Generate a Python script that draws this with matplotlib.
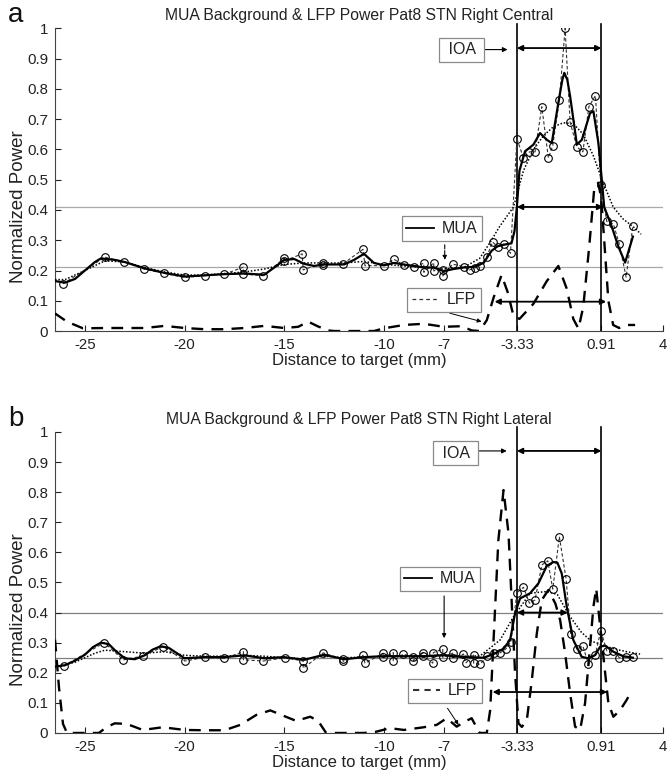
import matplotlib
matplotlib.use("Agg")
import matplotlib.pyplot as plt
from matplotlib.lines import Line2D

plt.rcParams['font.family'] = ['Liberation Sans', 'DejaVu Sans']

# ---------------- data: panel a (Right Central) ----------------
a_raw_x = [-26.1, -24.0, -23.05, -22.05, -21.05, -20.0, -19.0, -18.0, -17.05, -17.05, -16.05,
           -15.0, -15.0, -14.1, -14.05, -13.05, -13.05, -12.05, -11.05, -10.95, -10.0, -9.5,
           -9.0, -8.5, -8.0, -8.0, -7.5, -7.5, -7.05, -7.05, -6.55, -6.0, -5.7, -5.45, -5.2,
           -4.85, -4.55, -4.3, -4.0, -3.65, -3.33, -3.0, -2.7, -2.42, -2.08, -1.75, -1.53,
           -1.2, -0.91, -0.66, -0.32, -0.02, 0.28, 0.61, 0.88, 1.18, 1.51, 1.81, 2.15, 2.49]
a_raw_y = [0.156, 0.244, 0.229, 0.205, 0.191, 0.177, 0.183, 0.188, 0.211, 0.188, 0.183,
           0.241, 0.232, 0.255, 0.202, 0.226, 0.219, 0.222, 0.27, 0.216, 0.216, 0.237,
           0.218, 0.213, 0.224, 0.194, 0.226, 0.199, 0.202, 0.182, 0.221, 0.213, 0.202, 0.208, 0.216,
           0.244, 0.294, 0.279, 0.287, 0.257, 0.635, 0.572, 0.592, 0.592, 0.741, 0.572, 0.613,
           0.763, 1.0, 0.69, 0.608, 0.592, 0.741, 0.778, 0.481, 0.362, 0.354, 0.287, 0.178, 0.348]

a_mua_x = [-26.5, -26.0, -25.5, -25.0, -24.5, -24.2, -23.5, -23.0, -22.0, -21.0, -20.0, -19.0,
           -18.0, -17.0, -16.0, -15.5, -15.0, -14.5, -14.0, -13.5, -13.0, -12.0, -11.5, -11.0,
           -10.5, -10.0, -9.5, -9.0, -8.5, -8.0, -7.5, -7.0, -6.5, -6.0, -5.5, -5.0, -4.6, -4.3,
           -4.0, -3.6, -3.45, -3.33, -3.2, -2.92, -2.5, -2.17, -1.83, -1.58, -1.25, -1.05,
           -0.95, -0.8, -0.66, -0.32, -0.07, 0.34, 0.51, 0.76, 0.93, 1.05, 1.43, 1.76, 2.1, 2.49]
a_mua_y = [0.165, 0.16, 0.172, 0.2, 0.228, 0.24, 0.235, 0.228, 0.207, 0.192, 0.18, 0.184,
           0.188, 0.19, 0.186, 0.21, 0.235, 0.238, 0.222, 0.215, 0.22, 0.22, 0.235, 0.255,
           0.225, 0.217, 0.225, 0.22, 0.215, 0.21, 0.21, 0.198, 0.205, 0.21, 0.212, 0.225, 0.265,
           0.28, 0.285, 0.29, 0.33, 0.41, 0.53, 0.594, 0.616, 0.654, 0.632, 0.621, 0.754, 0.83,
           0.853, 0.83, 0.776, 0.616, 0.632, 0.72, 0.726, 0.621, 0.5, 0.41, 0.345, 0.279, 0.226,
           0.312]

a_smooth_x = [-26.5, -26.0, -25.0, -24.0, -23.0, -22.0, -21.0, -20.0, -19.0, -18.0, -17.0, -16.0,
              -15.0, -14.0, -13.0, -12.0, -11.0, -10.0, -9.0, -8.0, -7.0, -6.0, -5.2, -4.7, -4.2,
              -3.5, -3.0, -2.5, -2.0, -1.5, -1.0, -0.5, 0.0, 0.5, 1.0, 1.5, 2.0, 2.5, 2.9]
a_smooth_y = [0.17, 0.17, 0.2, 0.232, 0.228, 0.21, 0.195, 0.185, 0.185, 0.19, 0.195, 0.205,
              0.22, 0.225, 0.225, 0.225, 0.23, 0.22, 0.215, 0.21, 0.205, 0.21, 0.24, 0.29, 0.345,
              0.41, 0.53, 0.6, 0.645, 0.675, 0.688, 0.685, 0.65, 0.58, 0.49, 0.41, 0.37, 0.345, 0.32]

a_lfp_x = [-26.5, -25.9, -25.1, -24.0, -23.0, -22.0, -21.0, -20.0, -19.0, -18.0, -17.0, -16.0,
           -15.0, -14.3, -13.8, -13.3, -12.8, -12.5, -11.5, -10.5, -10.0, -9.0, -8.0, -7.0,
           -6.1, -5.6, -5.2, -4.84, -4.5, -4.1, -3.8, -3.5, -3.2, -2.5, -1.83, -1.25, -0.83,
           -0.5, -0.24, 0.0, 0.3, 0.55, 0.75, 0.9, 1.05, 1.26, 1.5, 1.8, 2.2, 2.6]
a_lfp_y = [0.058, 0.031, 0.009, 0.01, 0.01, 0.01, 0.017, 0.01, 0.006, 0.006, 0.01, 0.017,
           0.01, 0.014, 0.031, 0.015, 0.002, 0.0, 0.0, 0.0, 0.009, 0.02, 0.024, 0.014,
           0.016, 0.002, 0.0, 0.036, 0.11, 0.185, 0.13, 0.05, 0.04, 0.09, 0.165, 0.215, 0.14,
           0.04, 0.008, 0.08, 0.28, 0.47, 0.49, 0.44, 0.3, 0.1, 0.02, 0.01, 0.02, 0.02]

a_thresholds = [0.41, 0.21]

# ---------------- data: panel b (Right Lateral) ----------------
b_raw_x = [-26.05, -24.03, -23.07, -22.07, -21.07, -19.98, -19.0, -18.0, -17.05, -17.05, -16.05,
           -14.96, -14.05, -14.05, -13.05, -12.05, -12.05, -11.05, -10.95, -10.03, -10.03,
           -9.53, -9.53, -9.02, -8.52, -8.52, -8.02, -8.02, -7.55, -7.52, -7.05, -7.05, -6.55,
           -6.55, -6.01, -5.9, -5.5, -5.5, -5.18, -4.81, -4.5, -4.2, -3.9, -3.63, -3.33, -3.0,
           -2.7, -2.42, -2.08, -1.78, -1.53, -1.2, -0.86, -0.63, -0.32, -0.02, 0.26, 0.6, 0.88,
           1.18, 1.51, 1.81, 2.15, 2.49]
b_raw_y = [0.223, 0.300, 0.243, 0.256, 0.287, 0.239, 0.251, 0.248, 0.27, 0.243, 0.239,
           0.25, 0.239, 0.215, 0.266, 0.245, 0.238, 0.258, 0.232, 0.265, 0.251,
           0.267, 0.240, 0.262, 0.251, 0.240, 0.267, 0.255, 0.232, 0.267, 0.279, 0.251, 0.265,
           0.25, 0.262, 0.232, 0.259, 0.232, 0.228, 0.256, 0.265, 0.265, 0.278, 0.303, 0.466, 0.484,
           0.431, 0.442, 0.558, 0.572, 0.478, 0.652, 0.511, 0.329, 0.278, 0.289, 0.229, 0.259, 0.34,
           0.273, 0.273, 0.25, 0.253, 0.251]

b_mua_x = [-26.5, -26.0, -25.5, -25.0, -24.6, -24.2, -23.8, -23.5, -23.0, -22.5, -22.0, -21.6,
           -21.2, -20.8, -20.5, -20.0, -19.0, -18.0, -17.0, -16.0, -15.0, -14.0, -13.0, -12.0,
           -11.0, -10.0, -9.0, -8.0, -7.0, -6.0, -5.0, -4.5, -4.0, -3.67, -3.42, -3.17, -2.67,
           -2.25, -1.83, -1.5, -1.3, -1.08, -0.83, -0.5, -0.08, 0.26, 0.6, 0.85, 1.1, 1.51,
           2.0, 2.49]
b_mua_y = [0.22, 0.225, 0.24, 0.26, 0.285, 0.30, 0.295, 0.275, 0.248, 0.245, 0.258, 0.277,
           0.288, 0.283, 0.27, 0.248, 0.252, 0.252, 0.258, 0.248, 0.252, 0.243, 0.26, 0.245,
           0.252, 0.255, 0.255, 0.255, 0.258, 0.252, 0.25, 0.262, 0.28, 0.309, 0.398, 0.447, 0.464,
           0.497, 0.555, 0.568, 0.566, 0.53, 0.42, 0.309, 0.253, 0.248, 0.259, 0.287, 0.29, 0.27,
           0.255, 0.25]

b_smooth_x = [-26.5, -25.5, -24.5, -24.0, -23.0, -22.0, -21.0, -20.0, -19.0, -18.0, -17.0, -16.0,
              -15.0, -14.0, -13.0, -12.0, -11.0, -10.0, -9.0, -8.0, -7.0, -6.0, -5.18, -4.17,
              -3.5, -2.67, -1.83, -1.3, -0.7, -0.1, 0.4, 0.85, 1.51, 2.18, 2.85]
b_smooth_y = [0.22, 0.235, 0.265, 0.275, 0.27, 0.265, 0.27, 0.258, 0.255, 0.255, 0.258, 0.255,
              0.25, 0.246, 0.255, 0.25, 0.252, 0.255, 0.255, 0.255, 0.26, 0.255, 0.256, 0.309,
              0.386, 0.464, 0.47, 0.46, 0.39, 0.335, 0.305, 0.295, 0.28, 0.27, 0.262]

b_lfp_x = [-26.5, -26.3, -26.1, -25.9, -25.0, -24.3, -23.9, -23.5, -22.9, -22.1, -21.1, -20.0,
           -19.0, -18.0, -17.2, -16.4, -15.7, -15.0, -14.4, -13.7, -13.3, -12.9, -12.0, -11.0,
           -10.4, -9.7, -9.0, -8.0, -7.35, -6.85, -6.35, -5.93, -5.6, -5.2, -4.84, -4.67, -4.5,
           -4.26, -4.0, -3.75, -3.58, -3.42, -3.25, -3.08, -2.83, -2.58, -2.33, -2.08, -1.75,
           -1.4, -1.16, -0.91, -0.66, -0.41, -0.16, 0.09, 0.34, 0.51, 0.65, 0.85, 1.1, 1.26,
           1.51, 1.85, 2.18, 2.3]
b_lfp_y = [0.31, 0.15, 0.03, 0.0, 0.0, 0.0, 0.02, 0.032, 0.03, 0.01, 0.019, 0.01,
           0.009, 0.009, 0.027, 0.06, 0.075, 0.056, 0.04, 0.054, 0.04, 0.0, 0.0, 0.0,
           0.004, 0.016, 0.01, 0.019, 0.027, 0.049, 0.021, 0.038, 0.049, 0.0, 0.0, 0.076, 0.309,
           0.64, 0.807, 0.663, 0.42, 0.198, 0.032, 0.02, 0.043, 0.176, 0.331, 0.442, 0.475,
           0.43, 0.375, 0.265, 0.132, 0.021, 0.01, 0.099, 0.287, 0.42, 0.48, 0.353, 0.198, 0.099,
           0.054, 0.076, 0.11, 0.125]

b_thresholds = [0.40, 0.25]

# ---------------- shared axis info ----------------
ioa_bounds = [-3.33, 0.91]
x_ticks = [-25, -20, -15, -10, -7, -3.33, 0.91, 4]
x_tick_labels = ['-25', '-20', '-15', '-10', '-7', '-3.33', '0.91', '4']
y_ticks = [0, 0.1, 0.2, 0.3, 0.4, 0.5, 0.6, 0.7, 0.8, 0.9, 1.0]
y_tick_labels = ['0', '0.1', '0.2', '0.3', '0.4', '0.5', '0.6', '0.7', '0.8', '0.9', '1']
titles = ['MUA Background & LFP Power Pat8 STN Right Central',
          'MUA Background & LFP Power Pat8 STN Right Lateral']
panel_letters = ['a', 'b']

# MUA-threshold arrow spans and LFP-threshold arrow spans (x1, x2, y)
mua_spans = [(-3.33, 1.0, 0.41), (-3.33, -0.78, 0.40)]
lfp_spans = [(-4.45, 1.15, 0.097), (-4.55, 1.2, 0.136)]

fig = plt.figure(figsize=(6.67, 7.8), dpi=100)
ax_a = fig.add_axes([0.0825, 0.5756, 0.9115, 0.388])
ax_b = fig.add_axes([0.0825, 0.0603, 0.9115, 0.3859])

BOX_EC = '#8a8a8a'
TXT = '#222222'


def draw_panel(ax, raw_x, raw_y, mua_x, mua_y, sm_x, sm_y, lfp_x, lfp_y, thr, thr_color,
               mua_span, lfp_span, layout, title):
    for t in thr:
        ax.axhline(t, color=thr_color, lw=0.9, zorder=1)
    for b in ioa_bounds:
        ax.axvline(b, ymin=0, ymax=1.015, color='black', lw=1.2, clip_on=False, zorder=2)
    ax.plot(sm_x, sm_y, color='black', lw=1.1, ls=(0, (1, 1.2)), zorder=3)
    ax.plot(raw_x, raw_y, color='#333333', lw=0.8, ls=(0, (3, 2)), marker='o', ms=5.5,
            mfc='none', mec='black', mew=0.8, zorder=4)
    ax.plot(mua_x, mua_y, color='black', lw=1.6, zorder=5)
    ax.plot(lfp_x, lfp_y, color='black', lw=1.7, ls=(0, (5, 3.5)), zorder=5)

    ax.set_xlim(-26.5, 4)
    ax.set_ylim(0, 1)
    ax.set_xticks(x_ticks)
    ax.set_xticklabels(x_tick_labels)
    ax.set_yticks(y_ticks)
    ax.set_yticklabels(y_tick_labels)
    ax.tick_params(direction='in', length=4, width=0.8, labelsize=10.8, colors=TXT, pad=5)
    for s in ['top', 'right']:
        ax.spines[s].set_visible(False)
    for s in ['left', 'bottom']:
        ax.spines[s].set_linewidth(0.8)
        ax.spines[s].set_color('#444444')
    ax.set_xlabel('Distance to target (mm)', fontsize=12, labelpad=1, color=TXT)
    ax.set_ylabel('Normalized Power', fontsize=13.5, color=TXT)
    ax.yaxis.set_label_coords(-0.046, 0.41)
    ax.set_title(title, fontsize=11.3, pad=6, color=TXT)

    arrow2 = dict(arrowstyle='<|-|>', lw=1.3, color='black', shrinkA=0, shrinkB=0,
                  mutation_scale=8)
    ax.annotate('', xy=(ioa_bounds[1], layout['ioa_y']), xytext=(ioa_bounds[0], layout['ioa_y']),
                arrowprops=arrow2, zorder=6)
    ax.annotate('', xy=(mua_span[1], mua_span[2]), xytext=(mua_span[0], mua_span[2]),
                arrowprops=arrow2, zorder=6)
    ax.annotate('', xy=(lfp_span[1], lfp_span[2]), xytext=(lfp_span[0], lfp_span[2]),
                arrowprops=arrow2, zorder=6)

    ax.text(layout['ioa_box'][0], layout['ioa_box'][1], ' IOA ', ha='center', va='center',
            fontsize=11.5, color=TXT,
            bbox=dict(boxstyle='square,pad=0.28', fc='white', ec=BOX_EC, lw=0.9), zorder=7)
    ax.annotate('', xy=layout['ioa_arrow'][1], xytext=layout['ioa_arrow'][0],
                arrowprops=dict(arrowstyle='-|>', lw=0.8, color='black', shrinkA=0, shrinkB=0,
                                mutation_scale=7))

    common = dict(loc='center', bbox_transform=ax.transData, fontsize=11.5, frameon=True,
                  fancybox=False, edgecolor=BOX_EC, framealpha=1, borderpad=0.3,
                  handlelength=1.7, handletextpad=0.5, borderaxespad=0)
    h_mua = Line2D([], [], color='black', lw=1.3)
    h_lfp = Line2D([], [], color='#333333', lw=layout['lfp_handle_lw'], ls=(0, (3, 2.5)))
    leg1 = ax.legend([h_mua], ['MUA'], bbox_to_anchor=layout['mua_box'], **common)
    leg1.get_frame().set_linewidth(0.9)
    for t in leg1.get_texts():
        t.set_color(TXT)
    ax.add_artist(leg1)
    leg2 = ax.legend([h_lfp], ['LFP'], bbox_to_anchor=layout['lfp_box'], **common)
    leg2.get_frame().set_linewidth(0.9)
    for t in leg2.get_texts():
        t.set_color(TXT)
    ax.annotate('', xy=layout['mua_arrow'][1], xytext=layout['mua_arrow'][0],
                arrowprops=dict(arrowstyle='-|>', lw=0.8, color='black', shrinkA=0, shrinkB=0,
                                mutation_scale=6, ls=layout['mua_arrow_ls']))
    ax.annotate('', xy=layout['lfp_arrow'][1], xytext=layout['lfp_arrow'][0],
                arrowprops=dict(arrowstyle='-|>', lw=0.7, color='black', shrinkA=0, shrinkB=0,
                                mutation_scale=6))


layout_a = dict(ioa_y=0.935, ioa_box=(-6.1, 0.93), ioa_arrow=((-4.95, 0.93), (-3.8, 0.93)),
                mua_box=(-7.1, 0.338), mua_arrow=((-6.95, 0.285), (-6.95, 0.235)),
                mua_arrow_ls='--',
                lfp_box=(-7.0, 0.103), lfp_arrow=((-6.7, 0.059), (-5.1, 0.031)),
                lfp_handle_lw=0.9)
layout_b = dict(ioa_y=0.937, ioa_box=(-6.4, 0.93), ioa_arrow=((-5.3, 0.937), (-3.84, 0.937)),
                mua_box=(-7.2, 0.512), mua_arrow=((-6.98, 0.455), (-6.98, 0.315)),
                mua_arrow_ls='-',
                lfp_box=(-6.95, 0.14), lfp_arrow=((-6.81, 0.082), (-6.26, 0.027)),
                lfp_handle_lw=1.5)

draw_panel(ax_a, a_raw_x, a_raw_y, a_mua_x, a_mua_y, a_smooth_x, a_smooth_y, a_lfp_x, a_lfp_y,
           a_thresholds, '#a8a8a8', mua_spans[0], lfp_spans[0], layout_a, titles[0])
draw_panel(ax_b, b_raw_x, b_raw_y, b_mua_x, b_mua_y, b_smooth_x, b_smooth_y, b_lfp_x, b_lfp_y,
           b_thresholds, '#808080', mua_spans[1], lfp_spans[1], layout_b, titles[1])

fig.text(0.012, 0.997, panel_letters[0], fontsize=20, va='top', ha='left', color='#111111')
fig.text(0.012, 0.480, panel_letters[1], fontsize=20, va='top', ha='left', color='#111111')

fig.savefig('out.png', dpi=100)
